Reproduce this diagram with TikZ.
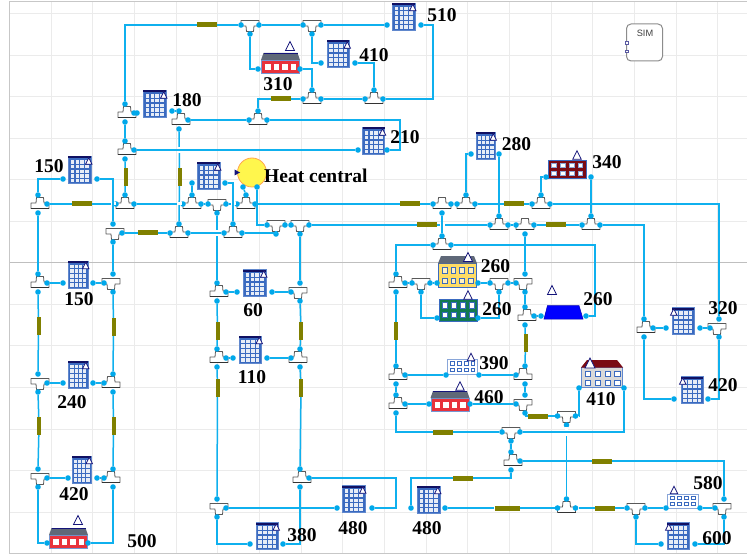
\documentclass[tikz,border=0pt]{standalone}
\usepackage{fontspec}
\setmainfont{Liberation Serif}
\setsansfont{Liberation Sans}
\definecolor{pipec}{HTML}{0FB0EE}
\definecolor{dotc}{HTML}{00A8EA}
\definecolor{valvec}{HTML}{808000}
\definecolor{gridc}{HTML}{EBEBEB}
\definecolor{officec}{HTML}{3A6AC0}
\definecolor{navyc}{HTML}{14147A}
\definecolor{roofc}{HTML}{5F6878}
\definecolor{housec}{HTML}{E8323C}
\definecolor{greenc}{HTML}{127A50}
\definecolor{darkredc}{HTML}{7A0A14}
\definecolor{yellowc}{HTML}{FFDC64}
\tikzset{
 pipe/.style={draw=pipec,line width=1.5pt},
 port/.style={circle,fill=dotc,inner sep=0pt,minimum size=5.6pt,draw=none},
 teeshape/.style={draw=black!65,fill=white,line width=.8pt,line join=round},
 valveh/.style={rectangle,fill=valvec,draw=none,inner sep=0pt,minimum width=20pt,minimum height=5pt},
 valvev/.style={rectangle,fill=valvec,draw=none,inner sep=0pt,minimum width=4pt,minimum height=18pt},
 gaph/.style={rectangle,fill=white,inner sep=0pt,minimum width=5pt,minimum height=3pt},
 gapv/.style={rectangle,fill=white,inner sep=0pt,minimum width=3pt,minimum height=6pt},
 lab/.style={font=\bfseries\fontsize{19.5}{20}\selectfont,inner sep=0pt,text=black},
 trimark/.style={draw=navyc,fill=white,line width=.7pt,line join=miter},
 gridline/.style={draw=gridc,line width=1pt},
}
\newcommand\teepath{(-3.5,-6.5) -- (3.5,-6.5) -- (4,-1) -- (9,-1) -- (9,4.5) -- (-9,4.5) -- (-9,-1) -- (-4,-1) -- cycle}
\newcommand\shU{\path[teeshape] \teepath; \draw[black!80,line width=1pt] (-9,4.5) -- (9,4.5);}
\newcommand\shUr{\begin{scope}[xshift=2pt]\shU\end{scope}}
\newcommand\shUl{\begin{scope}[xshift=-2pt]\shU\end{scope}}
\newcommand\shD{\begin{scope}[yscale=-1]\path[teeshape] \teepath;\end{scope}}
\newcommand\shDr{\begin{scope}[xshift=2pt]\shD\end{scope}}
\newcommand\shDl{\begin{scope}[xshift=-2pt]\shD\end{scope}}
\newcommand\prtl[1]{\node[port] (#1-l) at (-9,0) {};}
\newcommand\prtr[1]{\node[port] (#1-r) at (9,0) {};}
\newcommand\prtt[1]{\node[port] (#1-t) at (0,-9) {};}
\newcommand\prtb[1]{\node[port] (#1-b) at (0,9) {};}
\newcommand\tee[5]{\begin{scope}[shift={(#2,#3)}]\csname sh#4\endcsname\foreach\p in {#5}{\csname prt\p\endcsname{#1}}\end{scope}}
\newcommand\winds[8]{% x0 y0 x1 y1 cols rows fill draw
 \pgfmathsetmacro\cw{((#3)-(#1))/#5}\pgfmathsetmacro\ch{((#4)-(#2))/#6}
 \foreach \ii in {1,...,#5}{\foreach \jj in {1,...,#6}{
  \pgfmathsetmacro\wx{(#1)+(\ii-.5)*\cw}\pgfmathsetmacro\wy{(#2)+(\jj-.5)*\ch}
  \fill[#7,draw=#8,line width=.4pt] ({\wx-.27*\cw},{\wy-.28*\ch}) rectangle ({\wx+.27*\cw},{\wy+.28*\ch});}}}
\newcommand\tri[3]{\path[trimark] ({#1-#3/2},{#2+#3/2}) -- ({#1+#3/2},{#2+#3/2}) -- ({#1},{#2-#3/2}) -- cycle;}
% name cx cy width side(+1 right,-1 left)
\newcommand\office[5]{%
 \node[rectangle,fill=officec,draw=officec!80,inner sep=0pt,minimum width=#4pt,minimum height=27pt] (#1) at (#2,#3) {};
 \fill[navyc!80!black] ({#2-#4/2},{#3-13.5}) rectangle ({#2+#4/2},{#3-11.5});
 \winds{#2-#4/2+1.5}{#3-10.5}{#2+#4/2-1.5}{#3+12.5}{4}{5}{white!88!officec}{white!88!officec}
 \tri{#2+#5*(#4/2-2)}{#3-9}{6.5}}
% red house: name cx top
\newcommand\house[3]{%
 \node[rectangle,fill=housec,draw=officec!70,line width=.5pt,inner sep=0pt,minimum width=38pt,minimum height=13pt,anchor=north] (#1) at (#2,{#3+7}) {};
 \fill[roofc] ({#2-17},#3) -- ({#2+17},#3) -- ({#2+19.5},{#3+7}) -- ({#2-19.5},{#3+7}) -- cycle;
 \draw[navyc,line width=.8pt] ({#2-17},#3) -- ({#2+17},#3);
 \winds{#2-17}{#3+9.5}{#2+17}{#3+18}{4}{1}{white}{white}}
\begin{document}
\begin{tikzpicture}[x=1pt,y=-1pt]
\useasboundingbox (0,0) rectangle (747,556);
\fill[white] (0,0) rectangle (747,556);
% grid
\foreach \gx in {51,92.7,134.3,176,217.7,259.3,301,342.7,384.3,426,467.7,509.3,551,592.7,634.3,676,717.7}{\draw[gridline] (\gx,2) -- (\gx,553);}
\foreach \gy in {14,55.7,97,138.5,180,221.5,262.5,304,345.7,387,429,470,512}{\draw[gridline] (10,\gy) -- (747,\gy);}
\draw[black!25,line width=1pt] (10,262.5) -- (747,262.5);
\draw[black!22,line width=1pt] (747,1.7) -- (9.5,1.7) -- (9.5,553) -- (747,553);
% SIM
\node[rectangle,rounded corners=4.5pt,draw=black!45,line width=1pt,fill=white,minimum width=36pt,minimum height=37pt,inner sep=0pt] (sim) at (644.5,42.5) {};
\node[font=\sffamily\fontsize{9.2}{10}\selectfont,text=black!75,inner sep=0pt] (simt) at (645,33) {SIM};
\node[rectangle,draw=navyc!70,fill=white,inner sep=0pt,minimum width=3pt,minimum height=2.5pt] (sim1) at (626.5,42.7) {};
\node[rectangle,draw=navyc!70,fill=white,inner sep=0pt,minimum width=3pt,minimum height=2.5pt] (sim2) at (626.5,51) {};
% offices
\office{o180}{154.5}{104}{22.5}{1}
\office{o150a}{79.5}{170}{22.5}{1}
\office{oc}{208.5}{176}{22.5}{1}
\office{o410a}{338}{54}{22.5}{1}
\office{o510}{403.5}{16.5}{22.5}{1}
\office{o210}{373.5}{141}{22}{1}
\office{o280}{485.5}{146}{19.5}{1}
\office{o150b}{78}{274.5}{19.5}{1}
\office{o240}{78}{374.5}{19.5}{1}
\office{o420}{81.5}{469.5}{19.5}{1}
\office{o60}{254.5}{283}{22.5}{1}
\office{o110}{250}{349.5}{22.5}{1}
\office{o380}{267}{536}{22.5}{1}
\office{o480a}{353.5}{499}{22.5}{1}
\office{o480b}{428.5}{499.5}{22.5}{1}
\office{o320}{683}{321}{22.5}{-1}
\office{o420r}{692}{390}{22.5}{-1}
\office{o600}{678}{536}{22.5}{-1}
% houses
\house{h310}{280.5}{53}\tri{290}{46}{9}
\house{h500}{68.5}{528}\tri{78}{520}{9}
\house{h460}{450}{391}\tri{460}{386}{8.5}
% yellow
\node[rectangle,fill=yellowc,draw=officec,line width=.5pt,inner sep=0pt,minimum width=38pt,minimum height=24pt,anchor=north] (hy) at (457.5,263) {};
\fill[roofc] (441,256) -- (474,256) -- (477,263.5) -- (438,263.5) -- cycle;
\winds{440}{265}{475}{286}{4}{2}{yellowc!40!white}{officec}
\tri{468}{257}{9}
% green
\node[rectangle,fill=greenc,draw=officec,line width=.8pt,inner sep=0pt,minimum width=38pt,minimum height=22pt,anchor=north] (hg) at (458,298.5) {};
\winds{440}{300.5}{476}{319.5}{4}{2}{white}{officec}
\tri{468}{295}{8.5}
% blue
\path[fill=blue,draw=blue!70!black,line width=.5pt] (547.5,305.5) -- (579,305.5) -- (583,319) -- (544,319) -- cycle;
\node[rectangle,inner sep=0pt,minimum width=36pt,minimum height=13pt] (hb) at (563.5,312) {};
\tri{552}{290}{9}
% dark red
\node[rectangle,fill=darkredc,draw=officec,line width=.8pt,inner sep=0pt,minimum width=38pt,minimum height=18pt] (h340) at (567,169) {};
\winds{549.5}{161}{584.5}{177}{4}{2}{white}{officec!60}
\tri{577}{155}{8.5}
% 390 and 580
\node[rectangle,fill=white,draw=officec!60,line width=.8pt,inner sep=0pt,minimum width=30pt,minimum height=15pt] (h390) at (462,366.5) {};
\winds{449}{360}{476}{373}{4}{2}{white}{officec}
\tri{471}{357}{7.5}
\node[rectangle,fill=white,draw=officec!60,line width=.8pt,inner sep=0pt,minimum width=31pt,minimum height=14pt] (h580) at (682.5,501) {};
\winds{669}{495}{697}{507}{4}{2}{white}{officec}
\tri{674}{490}{7.5}
% 410
\node[rectangle,fill=black!15,draw=officec!80,line width=.7pt,inner sep=0pt,minimum width=41pt,minimum height=20pt,anchor=north] (h410) at (602,367) {};
\fill[darkredc] (587,360) -- (617,360) -- (623,367.5) -- (581,367.5) -- cycle;
\winds{583}{369}{622}{387}{4}{2}{white}{officec}
\tri{590}{363}{10}
% Heat central
\node[circle,draw=orange!70,fill=yellow!70,line width=.8pt,inner sep=0pt,minimum size=29pt] (hc) at (252,172.5) {};
\path[fill=navyc] (234.5,169.5) -- (240,172.5) -- (234.5,175.5) -- cycle;
% valves
\node[valveh] (v1) at (207,25) {};
\node[valveh] (v2) at (281,99) {};
\node[valvev] (v3) at (125.5,177) {};
\node[valvev] (v4) at (179.5,177) {};
\node[valveh] (v5) at (82,204) {};
\node[valveh] (v6) at (148,233) {};
\node[valveh] (v7) at (410,204) {};
\node[valveh] (v8) at (514,204) {};
\node[valveh] (v9) at (427,225) {};
\node[valveh] (v10) at (556,225) {};
\node[valvev] (v11) at (38.5,326) {};
\node[valvev] (v12) at (113.5,327) {};
\node[valvev] (v13) at (39,426) {};
\node[valvev] (v14) at (113.5,426) {};
\node[valvev] (v15) at (217.5,331) {};
\node[valvev] (v16) at (301,331) {};
\node[valvev] (v17) at (217.5,388) {};
\node[valvev] (v18) at (301,388) {};
\node[valvev] (v19) at (396,331) {};
\node[valvev] (v20) at (525.5,343) {};
\node[valveh] (v21) at (443,432) {};
\node[valveh] (v22) at (538,416) {};
\node[valveh] (v23) at (463,478) {};
\node[valveh] (v24) at (602,461) {};
\node[valveh,minimum width=25pt] (v25) at (507,508) {};
\node[valveh] (v26) at (605,508) {};
% tees
\tee{t1}{250}{25}{D}{l,r,b}
\tee{t2}{312}{25}{D}{l,r,b}
\tee{t3}{312}{99}{U}{l,r,t}
\tee{t4}{374}{99}{U}{l,r,t}
\tee{t5}{258}{120}{U}{l,r,t}
\tee{t6}{125}{113}{Ur}{t,r,b}
\tee{t7}{179}{120}{Ur}{t,r,b}
\tee{t8}{125}{150}{Ur}{t,r,b}
\tee{t9}{38}{204}{Ur}{t,r,b}
\tee{t10}{125}{204}{U}{l,r,t}
\tee{t11}{192}{204}{U}{l,r,t}
\tee{t12}{217}{204}{D}{l,r,b}
\tee{t13}{246}{204}{U}{l,r,t}
\tee{t14}{113}{233}{Dr}{t,r,b}
\tee{t15}{179}{233}{U}{l,r,t}
\tee{t16}{233}{233}{U}{l,r,t}
\tee{t17}{276}{225}{D}{l,r,b}
\tee{t18}{300}{225}{D}{l,r,b}
\tee{t19}{442}{204}{U}{l,r,b}
\tee{t20}{466}{204}{U}{l,r,t}
\tee{t21}{541}{204}{U}{l,r,t}
\tee{t22}{499}{225}{U}{l,r,t}
\tee{t23}{525}{225}{U}{l,r,b}
\tee{t24}{591}{225}{U}{l,r,t}
\tee{t25}{442}{245}{U}{l,r,t}
\tee{t26}{396}{283}{Ur}{t,r,b}
\tee{t27}{421}{283}{D}{l,r,b}
\tee{t28}{499}{283}{D}{l,r,b}
\tee{t29}{525}{283}{Dl}{l,t,b}
\tee{t30}{525}{316}{Ur}{t,r,b}
\tee{t31}{396}{375}{Ur}{t,r,b}
\tee{t32}{525}{375}{Ul}{t,l,b}
\tee{t33}{396}{404}{Ur}{t,r,b}
\tee{t34}{525}{404}{Dl}{t,l,b}
\tee{t35}{566.5}{416}{D}{l,r,b}
\tee{t36}{511}{432}{D}{l,r,b}
\tee{t37}{511}{461}{Ur}{t,r,b}
\tee{t38}{566.5}{508}{U}{l,r,t}
\tee{t39}{636}{508}{D}{l,r,b}
\tee{t40}{724}{508}{Dl}{l,t,b}
\tee{t41}{644}{328}{Ur}{t,r,b}
\tee{t42}{719}{328}{Dl}{l,t,b}
\tee{t43}{38}{283}{Ur}{t,r,b}
\tee{t44}{113}{283}{Dl}{l,t,b}
\tee{t45}{38}{383}{Dr}{t,r,b}
\tee{t46}{113}{383}{Ul}{l,t,b}
\tee{t47}{38}{478}{Dr}{t,r,b}
\tee{t48}{113}{478}{Ul}{l,t,b}
\tee{t49}{217}{292}{Ur}{t,r,b}
\tee{t50}{300}{292}{Dl}{l,t,b}
\tee{t51}{217}{358}{Ur}{t,r,b}
\tee{t52}{300}{358}{Ul}{l,t,b}
\tee{t53}{300}{478}{Ur}{t,r,b}
\tee{t54}{217}{508}{Dr}{t,r,b}
% equipment ports
\node[port] (o180l) at (137,113) {}; \node[port] (o180r) at (172,111) {};
\node[port] (o150al) at (63,179) {}; \node[port] (o150ar) at (97,179) {};
\node[port] (ocl) at (192,183) {}; \node[port] (ocr) at (225,183) {};
\node[port] (hcl) at (243,187) {}; \node[port] (hcr) at (257,187) {};
\node[port] (h310l) at (258,69) {}; \node[port] (h310r) at (300,69) {};
\node[port] (o410al) at (321,63) {}; \node[port] (o410ar) at (355,63) {};
\node[port] (o510l) at (387,25) {}; \node[port] (o510r) at (421,25) {};
\node[port] (o210l) at (358,150) {}; \node[port] (o210r) at (387,150) {};
\node[port] (o280l) at (471,154) {}; \node[port] (o280r) at (499,154) {};
\node[port] (h340l) at (546,177) {}; \node[port] (h340r) at (591,177) {};
\node[port] (hyl) at (437,283) {}; \node[port] (hyr) at (478,283) {};
\node[port] (hgl) at (437,318) {}; \node[port] (hgr) at (478,318) {};
\node[port] (hbl) at (541,316) {}; \node[port] (hbr) at (586,316) {};
\node[port] (h390l) at (446,375) {}; \node[port] (h390r) at (479,375) {};
\node[port] (h460l) at (429,404) {}; \node[port] (h460r) at (470,404) {};
\node[port] (h410l) at (579,388) {}; \node[port] (h410r) at (624,388) {};
\node[port] (o320l) at (666,328) {}; \node[port] (o320r) at (700,328) {};
\node[port] (o420rl) at (674,399) {}; \node[port] (o420rr) at (708,399) {};
\node[port] (o480bl) at (411,508) {}; \node[port] (o480br) at (445,508) {};
\node[port] (h580l) at (666,508) {}; \node[port] (h580r) at (700,508) {};
\node[port] (o600l) at (661,544) {}; \node[port] (o600r) at (695,544) {};
\node[port] (o150bl) at (63,283) {}; \node[port] (o150br) at (93,283) {};
\node[port] (o240l) at (63,383) {}; \node[port] (o240r) at (93,383) {};
\node[port] (o420l) at (68,478) {}; \node[port] (o420r) at (97,478) {};
\node[port] (h500l) at (47,543) {}; \node[port] (h500r) at (88,543) {};
\node[port] (o60l) at (237,292) {}; \node[port] (o60r) at (272,292) {};
\node[port] (o110l) at (233,358) {}; \node[port] (o110r) at (267,358) {};
\node[port] (o380l) at (250,544) {}; \node[port] (o380r) at (283,544) {};
\node[port] (o480al) at (337,508) {}; \node[port] (o480ar) at (372,508) {};
% corner coordinates
\coordinate (c510) at (433,99);
\coordinate (c210) at (400,120);
\coordinate (cb) at (595,316);
\coordinate (c480a) at (396,478);
\coordinate (c480b) at (396,508);
\coordinate (c380) at (300,544);
% pipes with gaps
\draw[pipe] (t9-r) -- (v5) -- (t10-l);
\draw[pipe] (t10-r) -- (t11-l);
\draw[pipe] (t12-r) -- (t13-l);
\draw[pipe] (t18-r) -- (v9) -- (t22-l);
\draw[pipe] (t7-b) -- (v4) -- (t15-t);
\draw[pipe] (t12-b) -- (t49-t);
\draw[pipe] (t35-b) -- (t38-t);
\node[gaph] (g1) at (113,204) {};
\node[gaph] (g2) at (179,204) {};
\node[gaph] (g3) at (233,204) {};
\node[gaph] (g4) at (442,225) {};
\node[gapv] (g5) at (179,150) {};
\node[gapv] (g6) at (217,233) {};
\node[gapv,minimum height=9pt] (g7) at (566.5,431) {};
% pipes
\draw[pipe] (t1-l) -- (v1); \draw[pipe] (v1) -| (t6-t);
\draw[pipe] (t1-r) -- (t2-l);
\draw[pipe] (t2-r) -- (o510l);
\draw[pipe] (t1-b) |- (h310l);
\draw[pipe] (h310r) -| (t3-t);
\draw[pipe] (t2-b) |- (o410al);
\draw[pipe] (o410ar) -| (t4-t);
\draw[pipe] (t3-r) -- (t4-l);
\draw[pipe] (t3-l) -- (v2); \draw[pipe] (v2) -| (t5-t);
\draw[pipe] (o510r) -| (c510) -- (t4-r);
\draw[pipe] (o210r) -| (c210) -- (t5-r);
\draw[pipe] (t7-r) -- (t5-l);
\draw[pipe] (t6-r) -- (o180l);
\draw[pipe] (o180r) -- (t7-t);
\draw[pipe] (t6-b) -- (t8-t);
\draw[pipe] (t8-r) -- (o210l);
\draw[pipe] (t8-b) -- (v3) -- (t10-t);
\draw[pipe] (o150al) -| (t9-t);
\draw[pipe] (o150ar) -| (t14-t);
\draw[pipe] (t14-r) -- (v6) -- (t15-l);
\draw[pipe] (t15-r) -- (t16-l);
\draw[pipe] (t16-r) -| (t17-b);
\draw[pipe] (hcr) |- (t17-l);
\draw[pipe] (hcl) -- (t13-t);
\draw[pipe] (t11-t) -- (ocl);
\draw[pipe] (ocr) -| (t16-t);
\draw[pipe] (t11-r) -- (t12-l);
\draw[pipe] (t17-r) -- (t18-l);
\draw[pipe] (t13-r) -- (v7) -- (t19-l);
\draw[pipe] (t19-r) -- (t20-l);
\draw[pipe] (t20-r) -- (v8) -- (t21-l);
\draw[pipe] (t21-r) -| (t42-t);
\draw[pipe] (o280l) -| (t20-t);
\draw[pipe] (o280r) -- (t22-t);
\draw[pipe] (h340l) -| (t21-t);
\draw[pipe] (h340r) -- (t24-t);
\draw[pipe] (t19-b) -- (t25-t);
\draw[pipe] (t22-r) -- (t23-l);
\draw[pipe] (t23-r) -- (v10) -- (t24-l);
\draw[pipe] (t24-r) -| (t41-t);
\draw[pipe] (t23-b) -- (t29-t);
\draw[pipe] (t25-l) -| (t26-t);
\draw[pipe] (t25-r) -| (cb) -- (hbr);
\draw[pipe] (t26-r) -- (t27-l);
\draw[pipe] (t27-r) -- (hyl);
\draw[pipe] (hyr) -- (t28-l);
\draw[pipe] (t28-r) -- (t29-l);
\draw[pipe] (t27-b) |- (hgl);
\draw[pipe] (hgr) -| (t28-b);
\draw[pipe] (t29-b) -- (t30-t);
\draw[pipe] (t30-r) -- (hbl);
\draw[pipe] (t30-b) -- (v20) -- (t32-t);
\draw[pipe] (t26-b) -- (v19) -- (t31-t);
\draw[pipe] (t31-r) -- (h390l);
\draw[pipe] (h390r) -- (t32-l);
\draw[pipe] (t31-b) -- (t33-t);
\draw[pipe] (t32-b) -- (t34-t);
\draw[pipe] (t33-r) -- (h460l);
\draw[pipe] (h460r) -- (t34-l);
\draw[pipe] (t33-b) |- (v21); \draw[pipe] (v21) -- (t36-l);
\draw[pipe] (t34-b) |- (v22); \draw[pipe] (v22) -- (t35-l);
\draw[pipe] (t35-r) -| (h410l);
\draw[pipe] (h410r) |- (t36-r);
\draw[pipe] (t36-b) -- (t37-t);
\draw[pipe] (t37-r) -- (v24); \draw[pipe] (v24) -| (t40-t);
\draw[pipe] (t37-b) |- (v23); \draw[pipe] (v23) -| (o480bl);
\draw[pipe] (o480br) -- (v25) -- (t38-l);
\draw[pipe] (t38-r) -- (v26) -- (t39-l);
\draw[pipe] (t39-r) -- (h580l);
\draw[pipe] (h580r) -- (t40-l);
\draw[pipe] (t39-b) |- (o600l);
\draw[pipe] (o600r) -| (t40-b);
\draw[pipe] (t41-r) -- (o320l);
\draw[pipe] (o320r) -- (t42-l);
\draw[pipe] (t41-b) |- (o420rl);
\draw[pipe] (o420rr) -| (t42-b);
\draw[pipe] (t9-b) -- (t43-t);
\draw[pipe] (t14-b) -- (t44-t);
\draw[pipe] (t43-r) -- (o150bl);
\draw[pipe] (o150br) -- (t44-l);
\draw[pipe] (t43-b) -- (v11) -- (t45-t);
\draw[pipe] (t44-b) -- (v12) -- (t46-t);
\draw[pipe] (t45-r) -- (o240l);
\draw[pipe] (o240r) -- (t46-l);
\draw[pipe] (t45-b) -- (v13) -- (t47-t);
\draw[pipe] (t46-b) -- (v14) -- (t48-t);
\draw[pipe] (t47-r) -- (o420l);
\draw[pipe] (o420r) -- (t48-l);
\draw[pipe] (t47-b) |- (h500l);
\draw[pipe] (h500r) -| (t48-b);
\draw[pipe] (t18-b) -- (t50-t);
\draw[pipe] (t49-r) -- (o60l);
\draw[pipe] (o60r) -- (t50-l);
\draw[pipe] (t49-b) -- (v15) -- (t51-t);
\draw[pipe] (t50-b) -- (v16) -- (t52-t);
\draw[pipe] (t51-r) -- (o110l);
\draw[pipe] (o110r) -- (t52-l);
\draw[pipe] (t51-b) -- (v17) -- (t54-t);
\draw[pipe] (t52-b) -- (v18) -- (t53-t);
\draw[pipe] (t54-r) -- (o480al);
\draw[pipe] (t54-b) |- (o380l);
\draw[pipe] (t53-b) -- (c380) -- (o380r);
\draw[pipe] (t53-r) -- (c480a) -- (c480b) -- (o480ar);
% labels
\node[lab] (l150a) at (49,166) {150};
\node[lab] (l180) at (187,100) {180};
\node[lab] (l310) at (278,84) {310};
\node[lab] (l410a) at (374,55) {410};
\node[lab] (l510) at (442,15) {510};
\node[lab] (l210) at (405,137) {210};
\node[lab] (l280) at (516.5,144) {280};
\node[lab] (l340) at (607,162) {340};
\node[lab] (l260a) at (495.5,266) {260};
\node[lab] (l260b) at (497,309) {260};
\node[lab] (l260c) at (598,299) {260};
\node[lab] (l320) at (723,308) {320};
\node[lab] (l420r) at (723,385) {420};
\node[lab] (l390) at (494,363) {390};
\node[lab] (l460) at (489,397) {460};
\node[lab] (l410b) at (601,399) {410};
\node[lab] (l580) at (708,483) {580};
\node[lab] (l600) at (717,538) {600};
\node[lab] (l480b) at (427,528) {480};
\node[lab] (l480a) at (353,528) {480};
\node[lab] (l380) at (302,535) {380};
\node[lab] (l500) at (142,541) {500};
\node[lab] (l420) at (74,494) {420};
\node[lab] (l240) at (72,402) {240};
\node[lab] (l150b) at (79,299) {150};
\node[lab] (l60) at (253,310) {60};
\node[lab] (l110) at (252,377) {110};
\node[lab,anchor=west] (lhc) at (264,176) {Heat central};
\end{tikzpicture}
\end{document}
